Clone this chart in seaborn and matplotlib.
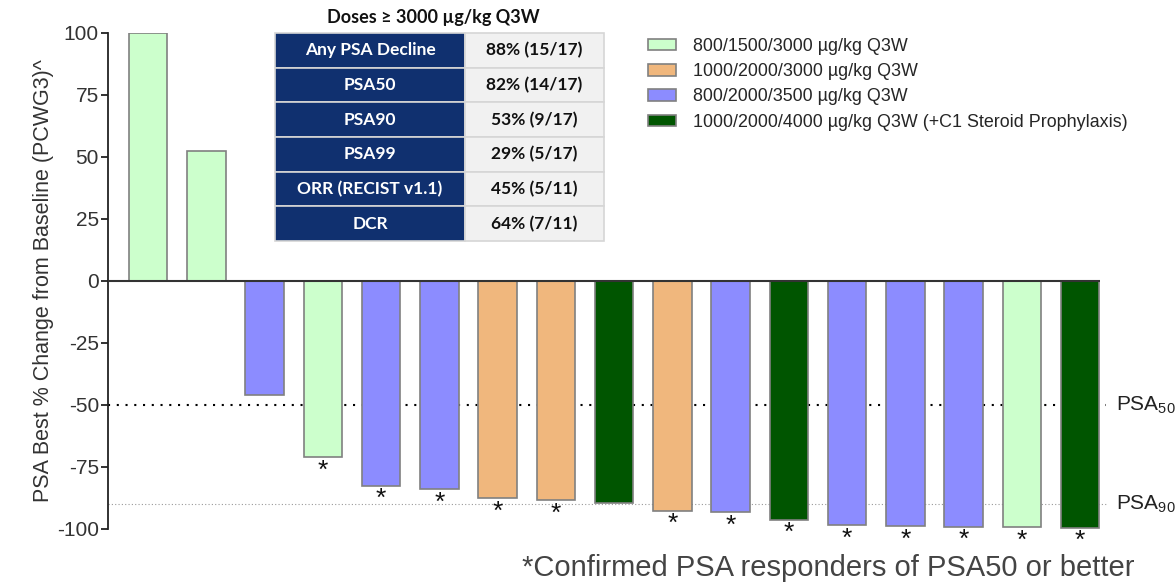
import numpy as np
import pandas as pd
import matplotlib
matplotlib.use("Agg")
import matplotlib.pyplot as plt
import seaborn as sns

# ---- data ----
patients = ["P%02d" % (i + 1) for i in range(17)]
psa_change = [100, 52.4, -46.0, -71.0, -82.5, -84.0, -87.7, -88.3, -89.6,
              -92.6, -93.2, -96.2, -98.4, -98.8, -99.1, -99.2, -99.5]
dose_group = ["A", "A", "C", "A", "C", "C", "B", "B", "D",
              "B", "C", "D", "C", "C", "C", "A", "D"]
confirmed = [0, 0, 0, 1, 1, 1, 1, 1, 0, 1, 1, 1, 1, 1, 1, 1, 1]

group_names = {
    "A": "800/1500/3000 \u00b5g/kg Q3W",
    "B": "1000/2000/3000 \u00b5g/kg Q3W",
    "C": "800/2000/3500 \u00b5g/kg Q3W",
    "D": "1000/2000/4000 \u00b5g/kg Q3W (+C1 Steroid Prophylaxis)",
}
group_colors = ["#CCFFCC", "#F0B77D", "#8C8CFF", "#005500"]

table_title = "Doses \u2265 3000 \u00b5g/kg Q3W"
table_labels = ["Any PSA Decline", "PSA50", "PSA90", "PSA99", "ORR (RECIST v1.1)", "DCR"]
table_values = ["88% (15/17)", "82% (14/17)", "53% (9/17)", "29% (5/17)", "45% (5/11)", "64% (7/11)"]

footnote = "*Confirmed PSA responders of PSA50 or better"

df = pd.DataFrame({"patient": patients, "change": psa_change,
                   "dose": [group_names[g] for g in dose_group]})
hue_order = [group_names[k] for k in ["A", "B", "C", "D"]]

sns.set_theme(style="white")
plt.rcParams["font.family"] = ["Liberation Sans", "DejaVu Sans"]
plt.rcParams["mathtext.default"] = "regular"
plt.rcParams["axes.unicode_minus"] = False

fig = plt.figure(figsize=(11.76, 5.84), dpi=100)
ax = fig.add_axes([108 / 1176, 1 - 529 / 584, (1100 - 108) / 1176, (529 - 33) / 584])

# reference lines behind bars
ax.plot([-0.69, 16.45], [-50, -50], color="black", lw=1.5,
        linestyle=(0, (1, 3.2)), clip_on=False, zorder=0)
ax.plot([-0.69, 16.45], [-90, -90], color="#999999", lw=0.8,
        linestyle=(0, (1, 2)), clip_on=False, zorder=0)

sns.barplot(data=df, x="patient", y="change", hue="dose", hue_order=hue_order,
            order=patients, palette=group_colors, saturation=1, dodge=False,
            width=0.66, edgecolor="#808080", linewidth=1.2, ax=ax, zorder=2)

ax.axhline(0, color="#333333", lw=1.5, zorder=3)

for i, (v, c) in enumerate(zip(psa_change, confirmed)):
    if c:
        ax.annotate("*", (i, v), xytext=(0, -1), textcoords="offset points",
                    ha="center", va="top", fontsize=19, color="#111111")

ax.text(16.62, -50, "PSA$_{50}$", va="center", ha="left", fontsize=15, color="#222222")
ax.text(16.62, -90, "PSA$_{90}$", va="center", ha="left", fontsize=15, color="#222222")

ax.set_xlim(-0.69, 16.34)
ax.set_ylim(-100, 100)
ax.set_yticks(np.arange(-100, 101, 25))
ax.set_xticks([])
ax.set_xlabel("")
ax.set_ylabel("PSA Best % Change from Baseline (PCWG3)^", fontsize=15.5,
              color="#333333", labelpad=2)
ax.tick_params(axis="y", length=5, width=1.3, direction="out", color="#222222",
               labelsize=15, labelcolor="#333333", left=True, pad=1.5)
for s in ["top", "right", "bottom"]:
    ax.spines[s].set_visible(False)
ax.spines["left"].set_color("#222222")
ax.spines["left"].set_linewidth(1.3)

handles, labels = ax.get_legend_handles_labels()
ax.legend(handles, labels, loc="upper left",
          bbox_to_anchor=(648 / 1176, 1 - 38 / 584), bbox_transform=fig.transFigure,
          frameon=False, fontsize=12.9, handlelength=1.55, handleheight=0.6,
          handletextpad=0.95, labelspacing=0.46, borderpad=0, borderaxespad=0)
for h in ax.get_legend().get_patches():
    h.set_edgecolor("#808080")

# summary table
tax = fig.add_axes([275 / 1176, 1 - 241 / 584, 329 / 1176, 208 / 584])
tax.axis("off")
cells = [[l, v] for l, v in zip(table_labels, table_values)]
tbl = tax.table(cellText=cells, bbox=[0, 0, 1, 1], colWidths=[190 / 329, 139 / 329],
                cellLoc="center")
tbl.auto_set_font_size(False)
for (r, c), cell in tbl.get_celld().items():
    cell.set_edgecolor("#D6D6D6")
    cell.set_linewidth(1.2)
    if c == 0:
        cell.set_facecolor("#10306F")
        cell.get_text().set_color("white")
    else:
        cell.set_facecolor("#F1F1F1")
        cell.get_text().set_color("#111111")
    cell.get_text().set_fontfamily("Lato")
    cell.get_text().set_fontweight("bold")
    cell.get_text().set_fontsize(12.5)
fig.text(433 / 1176, 1 - 17 / 584, table_title, ha="center", va="center",
         fontsize=13, fontweight="bold", fontfamily="Lato", color="#111111")

fig.text(1135 / 1176, 1 - 568 / 584, footnote, ha="right", va="center",
         fontsize=21, color="#444444")

fig.savefig("out.png", dpi=100)
